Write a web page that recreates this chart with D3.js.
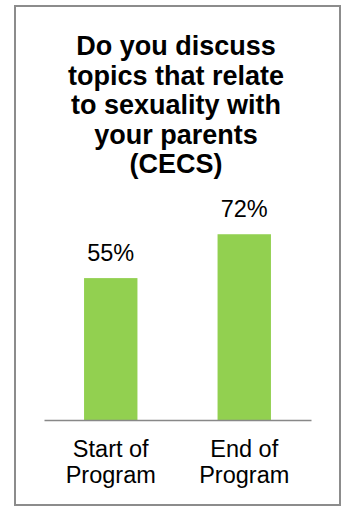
<!DOCTYPE html>
<html>
<head>
<meta charset="utf-8">
<script src="https://cdn.jsdelivr.net/npm/d3@7"></script>
<style>
    html, body { margin: 0; padding: 0; background: #fff; }
    svg { display: block; font-family: "Liberation Sans", Arial, sans-serif; }
</style>
</head>
<body>
<div id="chart"></div>
<script>
    // chart data
    var titleLines = ["Do you discuss", "topics that relate", "to sexuality with", "your parents", "(CECS)"];
    var categories = [["Start of", "Program"], ["End of", "Program"]];
    var values = [55, 72];

    var width = 341, height = 506;

    var svg = d3.select("#chart")
        .append("svg")
        .attr("width", width)
        .attr("height", height);

    // frame round the chart
    svg.append("rect")
        .attr("x", 15)
        .attr("y", 6)
        .attr("width", 325)
        .attr("height", 499)
        .attr("fill", "none")
        .attr("stroke", "#8c8c8c")
        .attr("stroke-width", 2);

    svg.append("text")
        .attr("text-anchor", "middle")
        .attr("font-weight", "bold")
        .attr("font-size", "27px")
        .attr("fill", "#000")
        .selectAll("tspan")
        .data(titleLines)
        .enter()
        .append("tspan")
        .attr("x", 176)
        .attr("y", function (d, i) { return 55 + i * 29.5; })
        .text(function (d) { return d; });

    var x = d3.scaleBand()
        .domain(d3.range(categories.length))
        .range([44, 311])
        .paddingInner(0.6)
        .paddingOuter(0.3);

    var y = d3.scaleLinear()
        .domain([0, 100])
        .range([420, 162]);

    svg.selectAll("rect.bar")
        .data(values)
        .enter()
        .append("rect")
        .attr("class", "bar")
        .attr("x", function (d, i) { return x(i); })
        .attr("y", function (d) { return y(d); })
        .attr("width", x.bandwidth())
        .attr("height", function (d) { return y(0) - y(d); })
        .attr("fill", "#92d050");

    svg.selectAll("text.value")
        .data(values)
        .enter()
        .append("text")
        .attr("class", "value")
        .attr("x", function (d, i) { return x(i) + x.bandwidth() / 2; })
        .attr("y", function (d) { return y(d) - 17; })
        .attr("text-anchor", "middle")
        .attr("font-size", "23.5px")
        .attr("fill", "#000")
        .text(function (d) { return d + "%"; });

    // baseline axis
    var axis = svg.append("g")
        .attr("transform", "translate(0," + y(0) + ")")
        .call(d3.axisBottom(x).tickSize(0).tickFormat(""));
    axis.select(".domain").attr("stroke", "#888").attr("stroke-width", 1.5);

    svg.selectAll("text.cat")
        .data(categories)
        .enter()
        .append("text")
        .attr("class", "cat")
        .attr("text-anchor", "middle")
        .attr("font-size", "23.5px")
        .attr("fill", "#000")
        .each(function (d, i) {
            d3.select(this).selectAll("tspan")
                .data(d)
                .enter()
                .append("tspan")
                .attr("x", x(i) + x.bandwidth() / 2)
                .attr("y", function (t, j) { return 457 + j * 25.5; })
                .text(function (t) { return t; });
        });
</script>
</body>
</html>
